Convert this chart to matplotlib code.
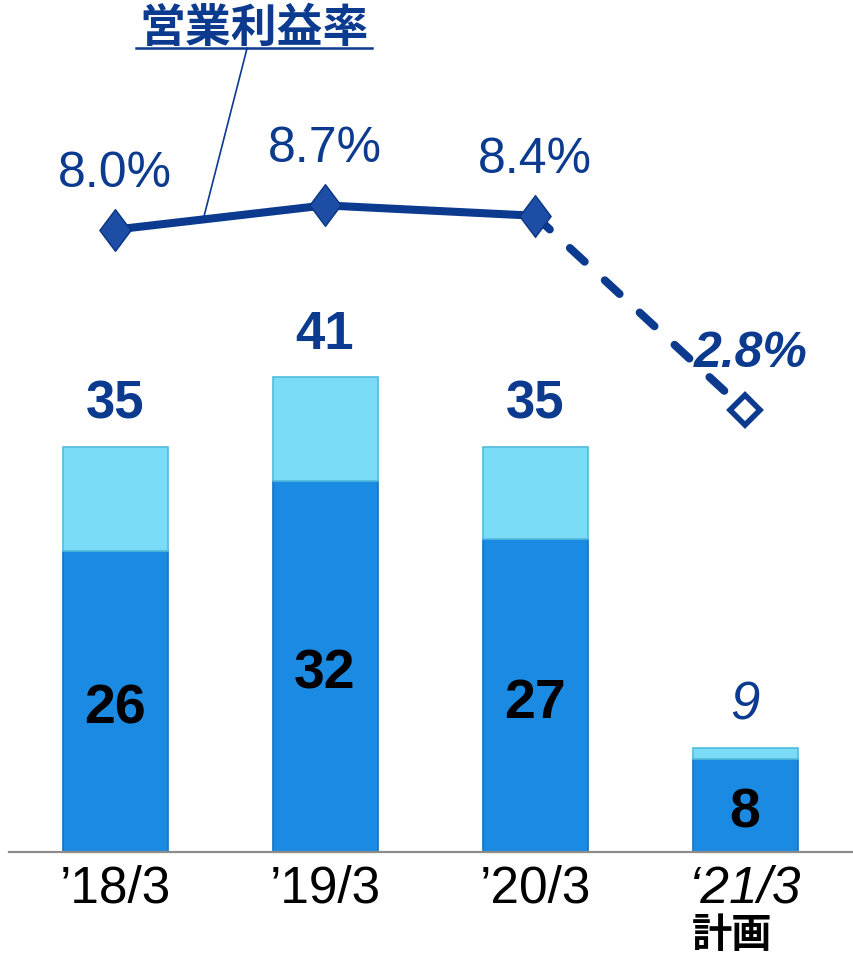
import matplotlib
matplotlib.use("Agg")
import matplotlib.pyplot as plt
from matplotlib.lines import Line2D
from matplotlib.path import Path

categories = ["’18/3", "’19/3", "’20/3", "‘21/3"]
plan_note = "計画"
lower = [26, 32, 27, 8]
total = [35, 41, 35, 9]
margin = [8.0, 8.7, 8.4, 2.8]
margin_labels = ["8.0%", "8.7%", "8.4%", "2.8%"]
title = "営業利益率"

navy = "#0B3A8F"
dark_blue = "#1A8AE2"
light_blue = "#7ADCF7"

sans = ["Liberation Sans", "Noto Sans CJK JP", "DejaVu Sans"]

fig = plt.figure(figsize=(8.54, 9.62), dpi=100)
ax = fig.add_axes([0.01, 0.1133, 0.99, 0.8867])
ax2 = ax.twinx()

x = list(range(len(categories)))
upper = [t - l for t, l in zip(total, lower)]
ax.bar(x, lower, width=0.5, color=dark_blue, edgecolor="#1272C4", linewidth=1.2, zorder=2)
ax.bar(x, upper, bottom=lower, width=0.5, color=light_blue, edgecolor="#52BCDD", linewidth=1.2, zorder=2)

ax.set_xlim(-0.507, 3.519)
ax.set_ylim(0, 73.66)
for s in ["top", "left", "right"]:
    ax.spines[s].set_visible(False)
    ax2.spines[s].set_visible(False)
ax2.spines["bottom"].set_visible(False)
ax.spines["bottom"].set_color("#8C8C8C")
ax.spines["bottom"].set_linewidth(1.6)
ax.set_yticks([])
ax2.set_yticks([])
ax.set_xticks(x, categories)
ax.tick_params(axis="x", length=0, pad=8)
for lab in ax.get_xticklabels():
    lab.set_fontfamily(sans)
    lab.set_fontsize(37)
ax.get_xticklabels()[3].set_style("italic")
# second line under the plan year
ax.annotate(plan_note, (x[3], 0), xytext=(-9, -44.5), textcoords="offset points",
            ha="center", va="top", fontsize=29, weight="bold", color="black",
            family=["Noto Sans CJK JP"], annotation_clip=False)

# totals above bars
for i in x:
    last = i == len(x) - 1
    ax.annotate(str(total[i]), (i, total[i]), xytext=(0, 21), textcoords="offset points",
                ha="center", va="baseline", fontsize=38, color=navy, family=sans,
                weight="normal" if last else "bold", style="italic" if last else "normal")
    ax.annotate(str(lower[i]), (i, lower[i] / 2), xytext=(0, -15), textcoords="offset points",
                ha="center", va="baseline", fontsize=40, color="black", family=sans, weight="bold")

# operating margin line
ax2.set_ylim(-9.945, 14.65)
ax2.plot(x[:3], margin[:3], color=navy, lw=5.8, solid_capstyle="round", zorder=3)
ax2.plot(x[2:], margin[2:], color=navy, lw=5.8, ls=(0, (2.5, 3.4)), dash_capstyle="round", zorder=3)
diamond = Path([(0, 1), (0.75, 0), (0, -1), (-0.75, 0), (0, 1)],
               [Path.MOVETO, Path.LINETO, Path.LINETO, Path.LINETO, Path.CLOSEPOLY])
ax2.plot(x[:3], margin[:3], ls="none", marker=diamond, ms=30, mfc="#1D4DA5", mec="#0A3580", mew=1, zorder=4)
ax2.plot(x[3:], margin[3:], ls="none", marker="D", ms=15, mfc="white", mec=navy, mew=4, zorder=4)

for i in x:
    if i < 3:
        ax2.annotate(margin_labels[i], (i, margin[i]), xytext=(0, 31.7), textcoords="offset points",
                     ha="center", va="baseline", fontsize=36, color=navy, family=sans)
    else:
        ax2.annotate(margin_labels[i], (i, margin[i]), xytext=(4, 31.7), textcoords="offset points",
                     ha="center", va="baseline", fontsize=36, color=navy, family=sans,
                     weight="bold", style="italic")

# title, underline and leader line
ttl = fig.text(254 / 854, 1 - 29 / 962, title, ha="center", va="center", fontsize=33,
               weight="bold", color=navy, family=["Noto Sans CJK JP"])
fig.canvas.draw()
bb = ttl.get_window_extent()
inv = fig.transFigure.inverted()
(x0, y0), (x1, _) = inv.transform([(bb.x0, bb.y0 + 3), (bb.x1, bb.y0 + 3)])
fig.add_artist(Line2D([x0 - 0.004, x1 + 0.004], [y0, y0], color=navy, lw=1.8))

t = 0.42
anchor = (x[0] + t * (x[1] - x[0]), margin[0] + t * (margin[1] - margin[0]))
ax2.annotate("", xy=anchor, xycoords="data", xytext=(x0 + 0.47 * (x1 - x0), y0),
             textcoords="figure fraction",
             arrowprops=dict(arrowstyle="-", color=navy, lw=1.2, shrinkA=0, shrinkB=0))

fig.savefig("out.png", dpi=100)
